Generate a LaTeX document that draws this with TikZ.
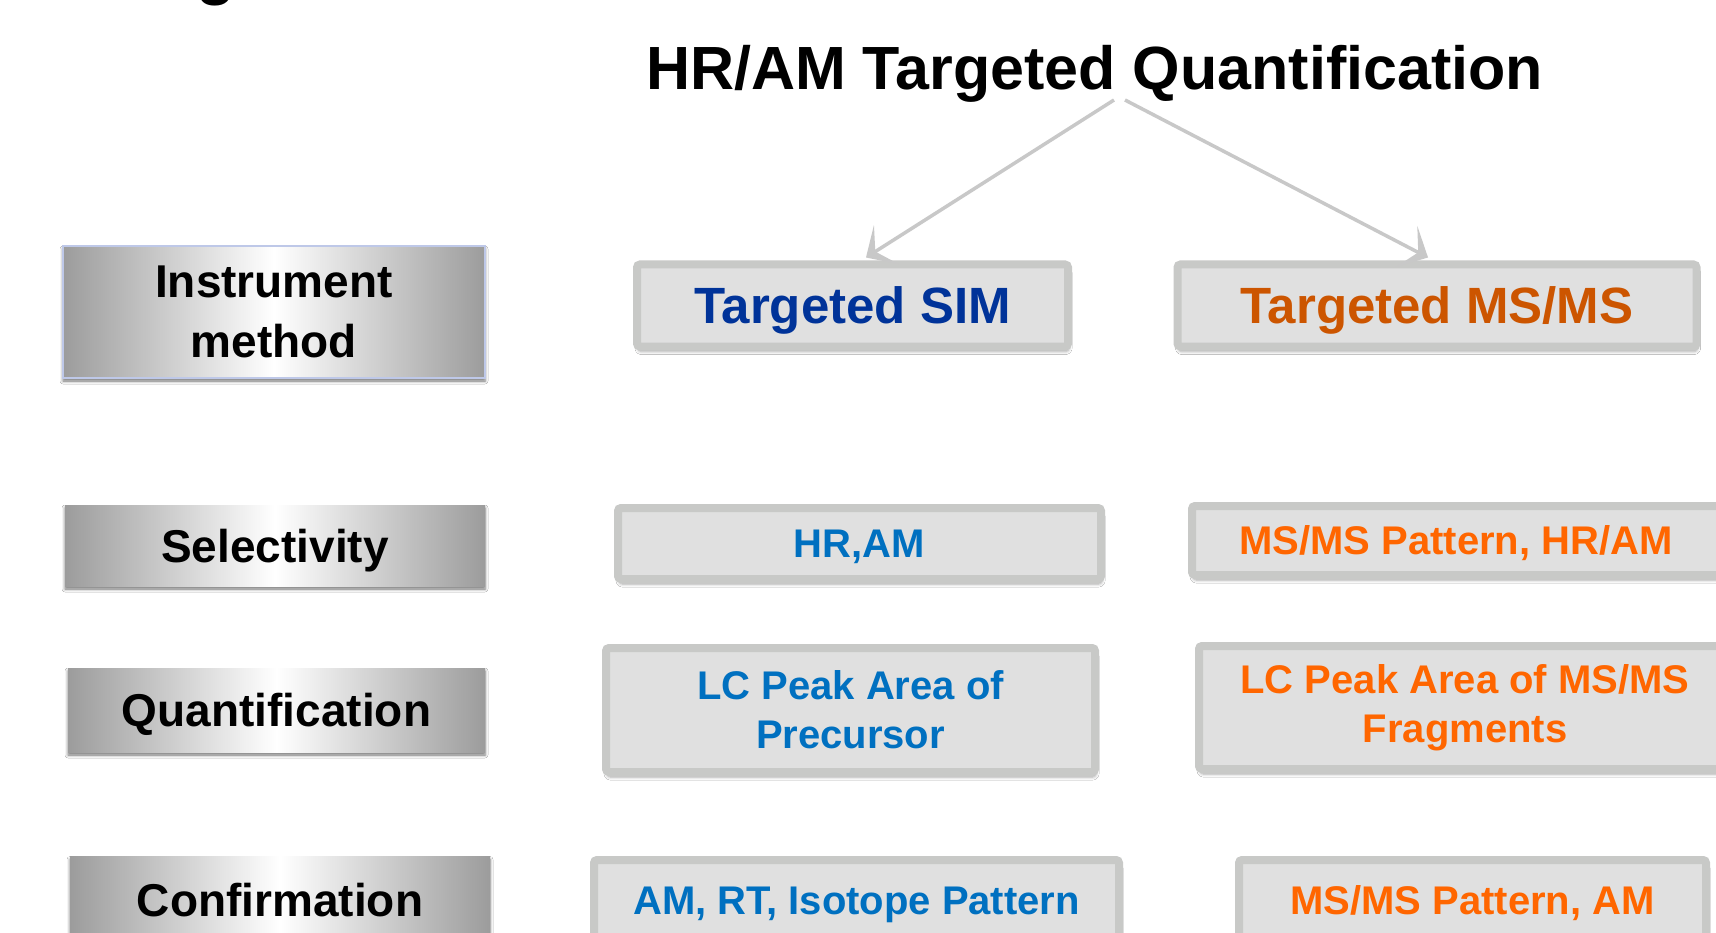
\documentclass[tikz,border=0pt]{standalone}
\usepackage{fontspec}
\setmainfont{Liberation Sans}
\usetikzlibrary{arrows.meta,shadows.blur}
\definecolor{boxborder}{RGB}{200,201,199}
\definecolor{boxfill}{RGB}{224,224,224}
\definecolor{simblue}{RGB}{0,51,153}
\definecolor{msorange}{RGB}{204,85,0}
\definecolor{lblue}{RGB}{0,112,192}
\definecolor{lorange}{RGB}{255,102,0}
\definecolor{arrowgray}{RGB}{200,200,200}
\definecolor{edgegray}{RGB}{156,156,156}
\definecolor{instborder}{RGB}{190,200,232}
\tikzset{
 graybox/.style={draw=boxborder, line width=8pt, fill=boxfill, rounded corners=3pt, align=center,
   font=\bfseries\fontsize{40}{49}\selectfont, inner sep=0pt,
   blur shadow={shadow xshift=1pt, shadow yshift=-5pt, shadow blur radius=3pt, shadow opacity=35}},
 shadebox/.style={left color=edgegray, right color=edgegray, middle color=white, align=center,
   font=\bfseries\fontsize{46}{60}\selectfont, inner sep=0pt,
   blur shadow={shadow xshift=0pt, shadow yshift=-3pt, shadow blur radius=3pt, shadow opacity=55}},
 oneline/.style={text height=28.6pt, text depth=0pt},
 onelinebig/.style={text height=36.5pt, text depth=0pt},
 onelineleft/.style={text height=33pt, text depth=0pt},
 titletext/.style={font=\bfseries\fontsize{61}{70}\selectfont},
 bigtext/.style={font=\bfseries\fontsize{51}{60}\selectfont},
 conn/.style={draw=arrowgray, line width=3.5pt, -{Stealth[length=24pt,width=46pt,inset=13pt]}},
}
\begin{document}
\begin{tikzpicture}[x=1pt,y=-1pt]
\useasboundingbox (0,0) rectangle (1716,933);
\clip (0,0) rectangle (1716,933);
\fill[white] (0,0) rectangle (1716,933);

% fragment of a cut-off heading
\node[font=\bfseries\fontsize{64}{70}\selectfont, anchor=base] (gfrag) at (216,-7) {g};

% title
\node[titletext, anchor=base] (title) at (1094.5,90) {HR/AM Targeted Quantification};
\coordinate (apexL) at (1114,100);
\coordinate (apexR) at (1125,100);

% left column
\node[shadebox, draw=instborder, line width=2pt, minimum width=422pt, minimum height=132pt] (inst) at (274,312) {Instrument\\method};
\node[shadebox, onelineleft, minimum width=420pt, minimum height=81pt] (sel) at (275,545.5) {Selectivity};
\node[shadebox, onelineleft, minimum width=417pt, minimum height=84pt] (quant) at (276.5,710) {Quantification};
\node[shadebox, onelineleft, minimum width=420pt, minimum height=86pt] (conf) at (280,899.5) {Confirmation};

% method boxes
\node[graybox, bigtext, onelinebig, text=simblue, minimum width=431pt, minimum height=82pt] (sim) at (852.5,305.5) {Targeted SIM};
\node[graybox, bigtext, onelinebig, text=msorange, minimum width=519pt, minimum height=82pt] (msms) at (1437,305.5) {Targeted MS/MS};

% rows
\node[graybox, oneline, text=lblue, minimum width=483pt, minimum height=71pt] (hram) at (859.5,543.5) {HR,AM};
\node[graybox, oneline, text=lorange, minimum width=528pt, minimum height=69pt] (pat) at (1456,540.5) {MS/MS Pattern, HR/AM};
\node[graybox, text=lblue, minimum width=489pt, minimum height=124pt] (lcp) at (850.5,710) {LC Peak Area of\\Precursor};
\node[graybox, text=lorange, minimum width=532pt, minimum height=123pt] (lcf) at (1465,707.5) {LC Peak Area of MS/MS\\Fragments};
\node[graybox, oneline, text=lblue, minimum width=525pt, minimum height=80pt] (amrt) at (856.5,900) {AM, RT, Isotope Pattern};
\node[graybox, oneline, text=lorange, minimum width=467pt, minimum height=80pt] (pam) at (1472.5,900) {MS/MS Pattern, AM};

% connectors
\draw[conn] (apexL) -- ([xshift=13.5pt,yshift=3pt]sim.north);
\draw[conn] (apexR) -- ([xshift=-9pt,yshift=3pt]msms.north);
\end{tikzpicture}
\end{document}
